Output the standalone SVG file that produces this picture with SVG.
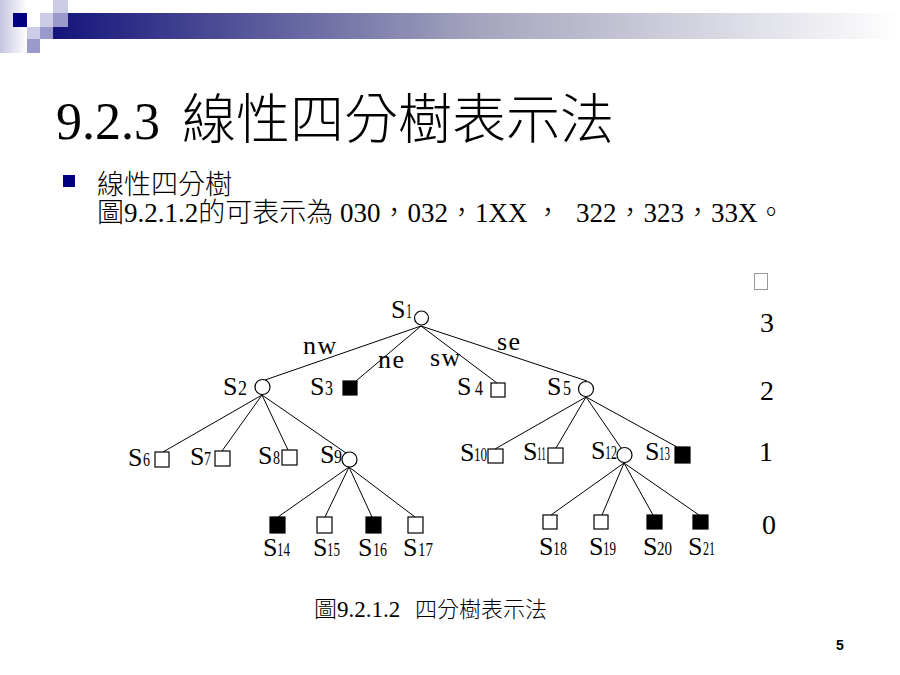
<svg xmlns="http://www.w3.org/2000/svg" width="900" height="675" viewBox="0 0 900 675">
<defs>
<linearGradient id="band" x1="0" y1="0" x2="1" y2="0">
<stop offset="0" stop-color="#14147C"/>
<stop offset="0.5" stop-color="#A4A4BE"/>
<stop offset="1" stop-color="#FFFFFF"/>
</linearGradient>
<linearGradient id="fade" x1="0" y1="0" x2="1" y2="0">
<stop offset="0" stop-color="#C4C4E0"/>
<stop offset="1" stop-color="#FFFFFF"/>
</linearGradient>
<style>
.ser{font-family:"Liberation Serif","Noto Sans CJK TC",serif;fill:#000}
.s{font-family:"Liberation Serif",serif;font-size:26px;fill:#000}
.d{font-family:"Liberation Serif",serif;font-size:18px;fill:#000}
.d2{font-family:"Liberation Serif",serif;font-size:21px;fill:#000}
.el{font-family:"Liberation Serif",serif;font-size:26px;letter-spacing:1.5px;fill:#000}
.lv{font-family:"Liberation Serif",serif;font-size:28px;fill:#000;text-anchor:middle}
.open{fill:#fff;stroke:#000;stroke-width:1.2}
.fill{fill:#000;stroke:#000;stroke-width:1.2}
.conn line{stroke:#000;stroke-width:1}
</style>
</defs>
<rect width="900" height="675" fill="#fff"/>
<g id="header-decoration">
<rect x="0" y="0" width="27" height="53" fill="url(#fade)"/>
<rect x="53" y="13" width="847" height="26" fill="url(#band)"/>
<rect x="53" y="0" width="15" height="13" fill="#CCCCE6"/>
<rect x="13" y="13" width="14" height="14" fill="#000080"/>
<rect x="40" y="13" width="13" height="14" fill="#CCCCE6"/>
<rect x="53" y="13" width="15" height="14" fill="#9999CC"/>
<rect x="27" y="27" width="13" height="12" fill="#CCCCE6"/>
<rect x="40" y="27" width="13" height="12" fill="#9999CC"/>
<rect x="27" y="39" width="13" height="14" fill="#9999CC"/>
</g>
<g id="title">
<text class="ser" x="56" y="139" font-size="52">9.2.3<tspan x="182" font-size="54" font-weight="300">線性四分樹表示法</tspan></text>
</g>
<g id="bullet-text">
<rect x="63" y="175" width="12" height="12" fill="#000080"/>
<text class="ser" x="97" y="194" font-size="27" font-weight="300">線性四分樹</text>
<text class="ser" x="97" y="222" font-size="27" font-weight="300">圖9.2.1.2的可表示為<tspan x="340">030，032，1XX ，</tspan><tspan dx="8"> 322，323，33X。</tspan></text>
</g>
<g id="connectors" class="conn">
<line x1="421" y1="326" x2="265" y2="380"/>
<line x1="421" y1="326" x2="356" y2="381"/>
<line x1="421" y1="326" x2="497" y2="383"/>
<line x1="421" y1="326" x2="587" y2="381"/>
<line x1="262" y1="395" x2="163" y2="452"/>
<line x1="262" y1="395" x2="222" y2="451"/>
<line x1="262" y1="395" x2="288" y2="450"/>
<line x1="262" y1="395" x2="346" y2="453"/>
<line x1="586" y1="397" x2="495" y2="449"/>
<line x1="586" y1="397" x2="556" y2="448"/>
<line x1="586" y1="397" x2="621" y2="448"/>
<line x1="586" y1="397" x2="677" y2="447"/>
<line x1="349" y1="467" x2="278" y2="517"/>
<line x1="349" y1="467" x2="325" y2="517"/>
<line x1="349" y1="467" x2="372" y2="517"/>
<line x1="349" y1="467" x2="415" y2="517"/>
<line x1="624" y1="463" x2="551" y2="515"/>
<line x1="624" y1="463" x2="602" y2="515"/>
<line x1="624" y1="463" x2="653" y2="515"/>
<line x1="624" y1="463" x2="699" y2="515"/>
</g>
<g id="edge-labels">
<text class="el" x="303" y="354">nw</text>
<text class="el" x="378" y="368">ne</text>
<text class="el" x="430" y="366">sw</text>
<text class="el" x="497" y="350">se</text>
</g>
<g id="S1"><circle class="open" cx="421.5" cy="318" r="7"/><text class="s" x="391" y="318">S</text><text class="d2" x="406" y="318" textLength="6" lengthAdjust="spacingAndGlyphs">1</text></g>
<g id="S2"><circle class="open" cx="262.5" cy="387" r="7.5"/><text class="s" x="223" y="395">S</text><text class="d2" x="238" y="395" textLength="9" lengthAdjust="spacingAndGlyphs">2</text></g>
<g id="S3"><rect class="fill" x="343" y="381" width="14" height="14"/><text class="s" x="310" y="395">S</text><text class="d2" x="325" y="395" textLength="8" lengthAdjust="spacingAndGlyphs">3</text></g>
<g id="S4"><rect class="open" x="491" y="383" width="14" height="14"/><text class="s" x="457" y="395">S</text><text class="d2" x="475" y="395" textLength="8" lengthAdjust="spacingAndGlyphs">4</text></g>
<g id="S5"><circle class="open" cx="586" cy="389" r="7.5"/><text class="s" x="547" y="395">S</text><text class="d2" x="563" y="395" textLength="8" lengthAdjust="spacingAndGlyphs">5</text></g>
<g id="S6"><rect class="open" x="155" y="452" width="14" height="15"/><text class="s" x="128" y="466">S</text><text class="d" x="143" y="466" textLength="7" lengthAdjust="spacingAndGlyphs">6</text></g>
<g id="S7"><rect class="open" x="215" y="451" width="15" height="15"/><text class="s" x="190" y="465">S</text><text class="d" x="204" y="465" textLength="7" lengthAdjust="spacingAndGlyphs">7</text></g>
<g id="S8"><rect class="open" x="282" y="450" width="15" height="15"/><text class="s" x="258" y="464">S</text><text class="d" x="273" y="464" textLength="7" lengthAdjust="spacingAndGlyphs">8</text></g>
<g id="S9"><circle class="open" cx="349.5" cy="459.5" r="7.5"/><text class="s" x="320" y="463">S</text><text class="d" x="334" y="463" textLength="8" lengthAdjust="spacingAndGlyphs">9</text></g>
<g id="S10"><rect class="open" x="488" y="449" width="15" height="14"/><text class="s" x="460" y="461">S</text><text class="d" x="474" y="461" textLength="13" lengthAdjust="spacingAndGlyphs">10</text></g>
<g id="S11"><rect class="open" x="548" y="448" width="15" height="15"/><text class="s" x="523" y="460">S</text><text class="d" x="537" y="460" textLength="9" lengthAdjust="spacingAndGlyphs">11</text></g>
<g id="S12"><circle class="open" cx="624.5" cy="455" r="7.5"/><text class="s" x="591" y="459">S</text><text class="d" x="605" y="459" textLength="12" lengthAdjust="spacingAndGlyphs">12</text></g>
<g id="S13"><rect class="fill" x="675" y="447" width="15" height="16"/><text class="s" x="645" y="460">S</text><text class="d" x="659" y="460" textLength="11" lengthAdjust="spacingAndGlyphs">13</text></g>
<g id="S14"><rect class="fill" x="270" y="517" width="15" height="16"/><text class="s" x="263" y="556">S</text><text class="d" x="277" y="556" textLength="13" lengthAdjust="spacingAndGlyphs">14</text></g>
<g id="S15"><rect class="open" x="317" y="517" width="15" height="16"/><text class="s" x="313" y="556">S</text><text class="d" x="327" y="556" textLength="13" lengthAdjust="spacingAndGlyphs">15</text></g>
<g id="S16"><rect class="fill" x="366" y="517" width="15" height="16"/><text class="s" x="358" y="556">S</text><text class="d" x="373" y="556" textLength="14" lengthAdjust="spacingAndGlyphs">16</text></g>
<g id="S17"><rect class="open" x="408" y="517" width="15" height="16"/><text class="s" x="403" y="556">S</text><text class="d" x="418" y="556" textLength="15" lengthAdjust="spacingAndGlyphs">17</text></g>
<g id="S18"><rect class="open" x="543" y="515" width="14" height="14"/><text class="s" x="539" y="555">S</text><text class="d" x="553" y="555" textLength="14" lengthAdjust="spacingAndGlyphs">18</text></g>
<g id="S19"><rect class="open" x="594" y="515" width="14" height="14"/><text class="s" x="589" y="555">S</text><text class="d" x="603" y="555" textLength="13" lengthAdjust="spacingAndGlyphs">19</text></g>
<g id="S20"><rect class="fill" x="647" y="515" width="15" height="14"/><text class="s" x="643" y="555">S</text><text class="d" x="657" y="555" textLength="15" lengthAdjust="spacingAndGlyphs">20</text></g>
<g id="S21"><rect class="fill" x="693" y="515" width="15" height="14"/><text class="s" x="688" y="555">S</text><text class="d" x="703" y="555" textLength="12" lengthAdjust="spacingAndGlyphs">21</text></g>
<g id="levels">
<rect x="754.5" y="273.5" width="13" height="16" fill="#fff" stroke="#999" stroke-width="1"/>
<text class="lv" x="767" y="332">3</text>
<text class="lv" x="767" y="400">2</text>
<text class="lv" x="766" y="461">1</text>
<text class="lv" x="769" y="534">0</text>
</g>
<g id="caption">
<text class="ser" x="314" y="617" font-size="23" font-weight="300">圖9.2.1.2<tspan x="415" font-size="22">四分樹表示法</tspan></text>
</g>
<text x="836" y="650" font-family="Liberation Sans, Arial, sans-serif" font-weight="bold" font-size="14" fill="#000">5</text>
</svg>
